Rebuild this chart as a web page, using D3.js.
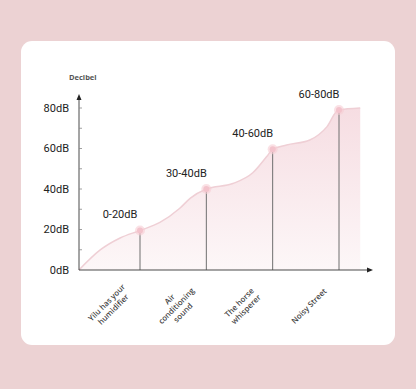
<!DOCTYPE html>
<html>
<head>
<meta charset="UTF-8">
<script src="https://d3js.org/d3.v7.min.js"></script>
<style>
  body { margin: 0; background: #ecd2d3; }
  svg { display: block; }
  .tick-label { font: 400 11px Roboto, sans-serif; fill: #222; }
  .range-label { font: 400 11px Roboto, sans-serif; fill: #222; }
  .cat-label { font: 600 7.8px "Open Sans", sans-serif; fill: #444; }
</style>
</head>
<body>
<svg id="chart" width="416" height="389"></svg>
<script>
// category labels (line breaks as in the picture)
const categoryLines = [
  ["Yilu has your", "humidifier"],
  ["Air", "conditioning", "sound"],
  ["The horse", "whisperer"],
  ["Noisy Street"]
];
const rangeLabels = ["0-20dB", "30-40dB", "40-60dB", "60-80dB"];
const pointValues = [19.5, 40, 59.6, 79];
const categoryPos = [1, 2, 3, 4];

// the smooth curve
const curveX = [0.08, 0.40, 0.70, 1.00, 1.30, 1.60, 1.76, 2.00, 2.40, 2.70, 2.91, 3.00, 3.21, 3.56, 3.82, 3.99, 4.32];
const curveY = [0, 9.9, 15.8, 19.5, 23.5, 30.5, 35.5, 40, 42.7, 48, 56, 59.6, 61.7, 64.2, 70.8, 79, 80];

const yMajor = [0, 20, 40, 60, 80];
const yMinor = [10, 20, 30, 40, 50, 60, 70, 80];

const svg = d3.select("#chart");

// card
svg.append("rect")
  .attr("x", 21).attr("y", 41).attr("width", 374).attr("height", 304)
  .attr("rx", 11).attr("fill", "#ffffff");

const x = d3.scaleLinear().domain([1, 4]).range([140, 339]);
const y = d3.scaleLinear().domain([0, 80]).range([270, 108]);

const x0 = 79, axisRight = 373, axisTop = 94;

const defs = svg.append("defs");
const grad = defs.append("linearGradient")
  .attr("id", "fillGrad")
  .attr("gradientUnits", "userSpaceOnUse")
  .attr("x1", 0).attr("y1", y(80)).attr("x2", 0).attr("y2", y(0));
grad.append("stop").attr("offset", "0%").attr("stop-color", "#f6dde2");
grad.append("stop").attr("offset", "100%").attr("stop-color", "#fdf7f8");

const pts = curveX.map((v, i) => [v, curveY[i]]);

const area = d3.area()
  .x(d => x(d[0]))
  .y0(y(0))
  .y1(d => y(d[1]))
  .curve(d3.curveMonotoneX);

const line = d3.line()
  .x(d => x(d[0]))
  .y(d => y(d[1]))
  .curve(d3.curveMonotoneX);

svg.append("path").datum(pts)
  .attr("d", area)
  .attr("fill", "url(#fillGrad)");

svg.append("path").datum(pts)
  .attr("d", line)
  .attr("fill", "none")
  .attr("stroke", "#efcfd5")
  .attr("stroke-width", 1.5);

// drop lines
svg.selectAll(".drop").data(pointValues).join("line")
  .attr("class", "drop")
  .attr("x1", (d, i) => x(categoryPos[i])).attr("x2", (d, i) => x(categoryPos[i]))
  .attr("y1", d => y(d)).attr("y2", y(0))
  .attr("stroke", "#6f6f6f").attr("stroke-width", 1);

// points
svg.selectAll(".halo").data(pointValues).join("circle")
  .attr("cx", (d, i) => x(categoryPos[i])).attr("cy", d => y(d))
  .attr("r", 5).attr("fill", "#f6cdd4").attr("opacity", 0.6);
svg.selectAll(".dot").data(pointValues).join("circle")
  .attr("cx", (d, i) => x(categoryPos[i])).attr("cy", d => y(d))
  .attr("r", 3).attr("fill", "#f3c3cc");

// axes
const axisColor = "#4a4a4a";
svg.append("line").attr("x1", x0).attr("x2", x0).attr("y1", y(0)).attr("y2", axisTop + 4)
  .attr("stroke", axisColor).attr("stroke-width", 1);
svg.append("line").attr("x1", x0).attr("x2", axisRight - 4).attr("y1", y(0)).attr("y2", y(0))
  .attr("stroke", axisColor).attr("stroke-width", 1);
svg.append("path")
  .attr("d", `M${x0},${axisTop} L${x0 - 2.5},${axisTop + 6} L${x0 + 2.5},${axisTop + 6} Z`)
  .attr("fill", "#222");
svg.append("path")
  .attr("d", `M${axisRight},${y(0)} L${axisRight - 6},${y(0) - 2.5} L${axisRight - 6},${y(0) + 2.5} Z`)
  .attr("fill", "#222");

svg.selectAll(".minor").data(yMinor).join("line")
  .attr("x1", x0).attr("x2", x0 + 3)
  .attr("y1", d => y(d)).attr("y2", d => y(d))
  .attr("stroke", "#888").attr("stroke-width", 0.8);

svg.selectAll(".tick-label").data(yMajor).join("text")
  .attr("class", "tick-label")
  .attr("x", 69).attr("y", d => y(d)).attr("dy", "0.35em")
  .attr("text-anchor", "end")
  .text(d => d + "dB");

svg.append("text")
  .attr("x", 69).attr("y", 80)
  .attr("font-family", "Open Sans, sans-serif").attr("font-size", 7.5)
  .attr("font-weight", 700).attr("fill", "#555")
  .text("Decibel");

// range labels above points
svg.selectAll(".range-label").data(rangeLabels).join("text")
  .attr("class", "range-label")
  .attr("x", (d, i) => x(categoryPos[i]) - 20)
  .attr("y", (d, i) => y(pointValues[i]) - 16)
  .attr("dy", "0.35em")
  .attr("text-anchor", "middle")
  .text(d => d);

// rotated category labels
const cats = svg.selectAll(".cat").data(categoryLines).join("g")
  .attr("transform", (d, i) => `translate(${x(categoryPos[i]) - 30},${306}) rotate(-45)`);
cats.each(function(lines) {
  const t = d3.select(this).append("text")
    .attr("class", "cat-label")
    .attr("text-anchor", "middle");
  const lh = 9.5;
  const off = -(lines.length - 1) * lh / 2;
  lines.forEach((s, k) => {
    t.append("tspan").attr("x", 0).attr("y", off + k * lh).attr("dy", "0.35em").text(s);
  });
});
</script>
</body>
</html>
